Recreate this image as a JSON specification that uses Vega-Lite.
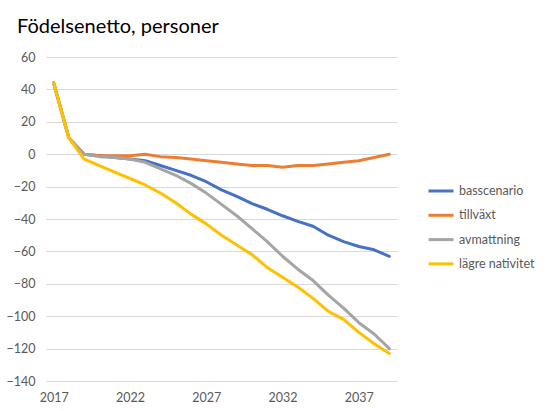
{
  "$schema": "https://vega.github.io/schema/vega-lite/v6.json",
  "width": 351,
  "height": 324,
  "autosize": "none",
  "padding": {"left": 46, "top": 57, "right": 151, "bottom": 30},
  "background": "white",
  "config": {
    "view": {"stroke": null},
    "font": "Lato",
    "axis": {"labelFont": "Lato", "labelColor": "#595959", "labelFontSize": 12.5, "domain": false, "ticks": false, "title": null, "gridColor": "#D9D9D9", "gridWidth": 1}
  },
  "title": {
    "text": "Födelsenetto, personer",
    "anchor": "start",
    "frame": "group",
    "font": "Lato",
    "fontSize": 20,
    "fontWeight": "normal",
    "color": "#000000",
    "dx": -29,
    "offset": 14
  },
  "data": {
    "values": [
      {"year": 2017, "series": "basscenario", "value": 44},
      {"year": 2018, "series": "basscenario", "value": 10},
      {"year": 2019, "series": "basscenario", "value": 0},
      {"year": 2020, "series": "basscenario", "value": -1},
      {"year": 2021, "series": "basscenario", "value": -2},
      {"year": 2022, "series": "basscenario", "value": -3},
      {"year": 2023, "series": "basscenario", "value": -4},
      {"year": 2024, "series": "basscenario", "value": -7},
      {"year": 2025, "series": "basscenario", "value": -10},
      {"year": 2026, "series": "basscenario", "value": -13},
      {"year": 2027, "series": "basscenario", "value": -17},
      {"year": 2028, "series": "basscenario", "value": -22},
      {"year": 2029, "series": "basscenario", "value": -26},
      {"year": 2030, "series": "basscenario", "value": -30.5},
      {"year": 2031, "series": "basscenario", "value": -34},
      {"year": 2032, "series": "basscenario", "value": -38},
      {"year": 2033, "series": "basscenario", "value": -41.5},
      {"year": 2034, "series": "basscenario", "value": -44.5},
      {"year": 2035, "series": "basscenario", "value": -50},
      {"year": 2036, "series": "basscenario", "value": -54},
      {"year": 2037, "series": "basscenario", "value": -57},
      {"year": 2038, "series": "basscenario", "value": -59},
      {"year": 2039, "series": "basscenario", "value": -63},
      {"year": 2017, "series": "tillväxt", "value": 44},
      {"year": 2018, "series": "tillväxt", "value": 10},
      {"year": 2019, "series": "tillväxt", "value": 0},
      {"year": 2020, "series": "tillväxt", "value": -1},
      {"year": 2021, "series": "tillväxt", "value": -1},
      {"year": 2022, "series": "tillväxt", "value": -1},
      {"year": 2023, "series": "tillväxt", "value": 0},
      {"year": 2024, "series": "tillväxt", "value": -1.5},
      {"year": 2025, "series": "tillväxt", "value": -2},
      {"year": 2026, "series": "tillväxt", "value": -3},
      {"year": 2027, "series": "tillväxt", "value": -4},
      {"year": 2028, "series": "tillväxt", "value": -5},
      {"year": 2029, "series": "tillväxt", "value": -6},
      {"year": 2030, "series": "tillväxt", "value": -7},
      {"year": 2031, "series": "tillväxt", "value": -7},
      {"year": 2032, "series": "tillväxt", "value": -8},
      {"year": 2033, "series": "tillväxt", "value": -7},
      {"year": 2034, "series": "tillväxt", "value": -7},
      {"year": 2035, "series": "tillväxt", "value": -6},
      {"year": 2036, "series": "tillväxt", "value": -5},
      {"year": 2037, "series": "tillväxt", "value": -4},
      {"year": 2038, "series": "tillväxt", "value": -2},
      {"year": 2039, "series": "tillväxt", "value": 0},
      {"year": 2017, "series": "avmattning", "value": 44},
      {"year": 2018, "series": "avmattning", "value": 10},
      {"year": 2019, "series": "avmattning", "value": 0},
      {"year": 2020, "series": "avmattning", "value": -1.5},
      {"year": 2021, "series": "avmattning", "value": -2},
      {"year": 2022, "series": "avmattning", "value": -3},
      {"year": 2023, "series": "avmattning", "value": -5},
      {"year": 2024, "series": "avmattning", "value": -9},
      {"year": 2025, "series": "avmattning", "value": -13},
      {"year": 2026, "series": "avmattning", "value": -18},
      {"year": 2027, "series": "avmattning", "value": -24},
      {"year": 2028, "series": "avmattning", "value": -31},
      {"year": 2029, "series": "avmattning", "value": -38},
      {"year": 2030, "series": "avmattning", "value": -46},
      {"year": 2031, "series": "avmattning", "value": -54},
      {"year": 2032, "series": "avmattning", "value": -63},
      {"year": 2033, "series": "avmattning", "value": -71},
      {"year": 2034, "series": "avmattning", "value": -78},
      {"year": 2035, "series": "avmattning", "value": -87},
      {"year": 2036, "series": "avmattning", "value": -95},
      {"year": 2037, "series": "avmattning", "value": -104},
      {"year": 2038, "series": "avmattning", "value": -111},
      {"year": 2039, "series": "avmattning", "value": -120},
      {"year": 2017, "series": "lägre nativitet", "value": 44},
      {"year": 2018, "series": "lägre nativitet", "value": 10},
      {"year": 2019, "series": "lägre nativitet", "value": -3},
      {"year": 2020, "series": "lägre nativitet", "value": -7},
      {"year": 2021, "series": "lägre nativitet", "value": -11},
      {"year": 2022, "series": "lägre nativitet", "value": -15},
      {"year": 2023, "series": "lägre nativitet", "value": -19},
      {"year": 2024, "series": "lägre nativitet", "value": -24},
      {"year": 2025, "series": "lägre nativitet", "value": -30},
      {"year": 2026, "series": "lägre nativitet", "value": -37},
      {"year": 2027, "series": "lägre nativitet", "value": -43},
      {"year": 2028, "series": "lägre nativitet", "value": -50},
      {"year": 2029, "series": "lägre nativitet", "value": -56},
      {"year": 2030, "series": "lägre nativitet", "value": -62},
      {"year": 2031, "series": "lägre nativitet", "value": -70},
      {"year": 2032, "series": "lägre nativitet", "value": -76},
      {"year": 2033, "series": "lägre nativitet", "value": -82},
      {"year": 2034, "series": "lägre nativitet", "value": -89},
      {"year": 2035, "series": "lägre nativitet", "value": -97},
      {"year": 2036, "series": "lägre nativitet", "value": -102},
      {"year": 2037, "series": "lägre nativitet", "value": -110},
      {"year": 2038, "series": "lägre nativitet", "value": -117},
      {"year": 2039, "series": "lägre nativitet", "value": -123}
    ]
  },
  "mark": {"type": "line", "strokeWidth": 3, "strokeCap": "round", "strokeJoin": "round"},
  "encoding": {
    "x": {
      "field": "year",
      "type": "quantitative",
      "scale": {"domain": [2016.5, 2039.5], "nice": false, "zero": false},
      "axis": {"values": [2017, 2022, 2027, 2032, 2037], "format": "d", "grid": false, "labelPadding": 10, "labelFlush": false}
    },
    "y": {
      "field": "value",
      "type": "quantitative",
      "scale": {"domain": [-140, 60], "nice": false, "zero": false},
      "axis": {"values": [-140, -120, -100, -80, -60, -40, -20, 0, 20, 40, 60], "labelPadding": 11}
    },
    "color": {
      "field": "series",
      "type": "nominal",
      "scale": {
        "domain": ["basscenario", "tillväxt", "avmattning", "lägre nativitet"],
        "range": ["#4472C4", "#ED7D31", "#A5A5A5", "#FFC000"]
      },
      "legend": {
        "title": null,
        "orient": "none",
        "legendX": 381,
        "legendY": 120,
        "symbolType": "stroke",
        "symbolSize": 625,
        "symbolStrokeWidth": 3,
        "labelFont": "Lato",
        "labelFontSize": 12.5,
        "labelColor": "#595959",
        "labelOffset": 4,
        "rowPadding": 3.3
      }
    }
  }
}
